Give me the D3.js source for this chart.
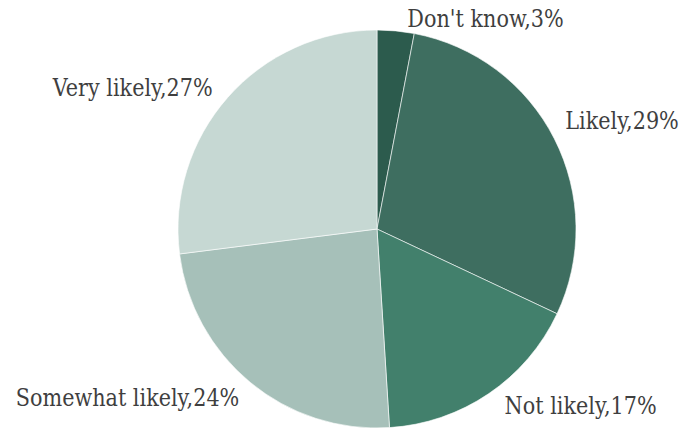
<!DOCTYPE html>
<html>
<head>
<meta charset="utf-8">
<script src="https://cdn.jsdelivr.net/npm/d3@7"></script>
<style>
  html, body { margin: 0; padding: 0; background: #ffffff; }
  svg { display: block; }
  .label { font-family: "DejaVu Serif", Georgia, serif; fill: #3f3f3f; }
</style>
</head>
<body>
<svg id="chart" width="683" height="429"></svg>
<script>
// Survey responses, clockwise from 12 o'clock
const categories = ["Don't know", "Likely", "Not likely", "Somewhat likely", "Very likely"];
const shares = [3, 29, 17, 24, 27];
const colors = ["#2c5b4d", "#3e6e60", "#42806c", "#a6c0b9", "#c6d8d3"];

const W = 683, H = 429;
const cx = 377, cy = 229, radius = 199;

const svg = d3.select("#chart");
const g = svg.append("g").attr("transform", `translate(${cx},${cy})`);

const data = categories.map((c, i) => ({ category: c, value: shares[i], color: colors[i] }));

const pie = d3.pie().value(d => d.value).sort(null);
const arc = d3.arc().innerRadius(0).outerRadius(radius);
const labelArc = d3.arc().innerRadius(radius + 28).outerRadius(radius + 28);

const arcs = pie(data);

g.selectAll("path.slice")
  .data(arcs)
  .join("path")
  .attr("class", "slice")
  .attr("d", arc)
  .attr("fill", d => d.data.color)
  .attr("stroke", "#ffffff")
  .attr("stroke-width", 0.6);

// Labels sit just outside each slice, anchored away from the pie
const nudge = {
  "Don't know": [9, 15],
  "Likely": [-14, -6],
  "Not likely": [0, -11],
  "Somewhat likely": [7, -7],
  "Very likely": [6, 8]
};

g.selectAll("text.label")
  .data(arcs)
  .join("text")
  .attr("class", "label")
  .attr("font-size", 25)
  .attr("dominant-baseline", "central")
  .attr("text-anchor", d => ((d.startAngle + d.endAngle) / 2 < Math.PI ? "start" : "end"))
  .attr("transform", d => {
    const [x, y] = labelArc.centroid(d);
    const [dx, dy] = nudge[d.data.category];
    return `translate(${x + dx},${y + dy}) scale(0.83,1)`;
  })
  .text(d => `${d.data.category},${d.data.value}%`);
</script>
</body>
</html>
